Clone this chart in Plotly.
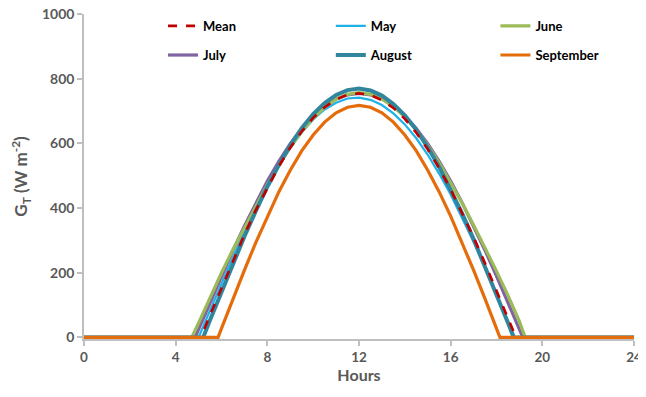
import plotly.graph_objects as go

# ---- data ----
mean_x = [0, 5.1, 5.5, 6, 6.5, 7, 7.5, 8, 8.5, 9, 9.5, 10, 10.5, 11, 11.5, 12, 12.5, 13, 13.5, 14, 14.5, 15, 15.5, 16, 16.5, 17, 17.5, 18, 18.5, 18.85, 24]
mean_y = [0, 0, 69, 154, 237, 318, 394, 464, 529, 587, 637, 679, 712, 736, 751, 755, 750, 734, 710, 676, 633, 582, 523, 458, 386, 310, 229, 146, 60, 0, 0]

may_x = [0, 5.0, 5.5, 6, 6.5, 7, 7.5, 8, 8.5, 9, 9.5, 10, 10.5, 11, 11.5, 12, 12.5, 13, 13.5, 14, 14.5, 15, 15.5, 16, 16.5, 17, 17.5, 18, 18.5, 18.8, 24]
may_y = [0, 0, 84, 167, 248, 326, 400, 468, 531, 586, 634, 674, 705, 726, 739, 742, 735, 719, 693, 659, 616, 565, 506, 442, 371, 296, 216, 134, 51, 0, 0]

june_x = [0, 4.7, 5.0, 5.5, 6, 6.5, 7, 7.5, 8, 8.5, 9, 9.5, 10, 10.5, 11, 11.5, 12, 12.5, 13, 13.5, 14, 14.5, 15, 15.5, 16, 16.5, 17, 17.5, 18, 18.5, 19, 19.25, 24]
june_y = [0, 0, 45, 125, 200, 272, 340, 408, 472, 532, 588, 637, 678, 712, 737, 752, 757, 752, 738, 714, 682, 642, 594, 540, 480, 416, 348, 278, 205, 130, 50, 0, 0]

july_x = [0, 4.85, 5.0, 5.5, 6, 6.5, 7, 7.5, 8, 8.5, 9, 9.5, 10, 10.5, 11, 11.5, 12, 12.5, 13, 13.5, 14, 14.5, 15, 15.5, 16, 16.5, 17, 17.5, 18, 18.5, 19, 19.15, 24]
july_y = [0, 0, 25, 108, 190, 269, 345, 417, 484, 545, 599, 646, 686, 716, 738, 750, 755, 750, 738, 716, 686, 646, 599, 545, 484, 417, 345, 269, 190, 108, 25, 0, 0]

august_x = [0, 5.2, 5.5, 6, 6.5, 7, 7.5, 8, 8.5, 9, 9.5, 10, 10.5, 11, 11.5, 12, 12.5, 13, 13.5, 14, 14.5, 15, 15.5, 16, 16.5, 17, 17.5, 18, 18.5, 18.75, 24]
august_y = [0, 0, 54, 142, 229, 312, 391, 466, 533, 594, 647, 691, 725, 750, 765, 770, 764, 748, 722, 687, 642, 588, 527, 458, 384, 304, 220, 133, 45, 0, 0]

september_x = [0, 5.85, 6, 6.5, 7, 7.5, 8, 8.5, 9, 9.5, 10, 10.5, 11, 11.5, 12, 12.5, 13, 13.5, 14, 14.5, 15, 15.5, 16, 16.5, 17, 17.5, 18, 18.15, 24]
september_y = [0, 0, 28, 119, 208, 294, 375, 450, 517, 577, 626, 666, 695, 712, 718, 712, 695, 666, 626, 577, 517, 450, 375, 294, 208, 119, 28, 0, 0]

x_ticks = [0, 4, 8, 12, 16, 20, 24]
y_ticks = [0, 200, 400, 600, 800, 1000]

FONT = "Lato"
GRAY = "#595959"
AXIS = "#BFBFBF"

fig = go.Figure()

# legend slot positions (container coords): one legend per entry, laid out 3 x 2
col_x = [0.243, 0.506, 0.764]
row_y = [0.954, 0.879]

# draw order (bottom to top)
series = [
    ("May", may_x, may_y, "#1FB1E6", 2.2, "solid", "legend2"),
    ("July", july_x, july_y, "#8064A2", 3.2, "solid", "legend4"),
    ("June", june_x, june_y, "#9BBB59", 3.2, "solid", "legend3"),
    ("August", august_x, august_y, "#31859C", 4.0, "solid", "legend5"),
    ("Mean", mean_x, mean_y, "#C00000", 2.6, "dash", "legend"),
    ("September", september_x, september_y, "#E46C0A", 3.2, "solid", "legend6"),
]
for name, xs, ys, col, w, dash, leg in series:
    fig.add_trace(go.Scatter(
        x=xs, y=ys, mode="lines", name=name,
        line=dict(color=col, width=w, dash=dash),
        legend=leg, showlegend=True,
    ))

legend_common = dict(
    orientation="h",
    font=dict(family=FONT, size=13, color="#000000", weight="bold"),
    bgcolor="rgba(0,0,0,0)", xanchor="left", yanchor="middle",
    xref="container", yref="container",
)
legend_names = ["legend", "legend2", "legend3", "legend4", "legend5", "legend6"]
legends = {}
for i, ln in enumerate(legend_names):
    legends[ln] = dict(x=col_x[i % 3], y=row_y[i // 3], **legend_common)

# the page body has an 8px default margin, so the figure is sized to fit the window
fig.update_layout(
    width=638, height=389,
    showlegend=True,
    margin=dict(l=76, r=12, t=6, b=58, autoexpand=False),
    paper_bgcolor="white", plot_bgcolor="white",
    font=dict(family=FONT, color=GRAY),
    xaxis=dict(
        range=[-0.001, 24.001], tickvals=x_ticks, ticktext=[str(v) for v in x_ticks],
        showgrid=False, zeroline=False, showline=True, linecolor=AXIS, linewidth=1.5,
        ticks="outside", ticklen=5, tickcolor=AXIS, tickwidth=1.5,
        ticklabeloverflow="allow",
        tickfont=dict(family=FONT, size=13.5, color=GRAY, weight="bold"),
        title=dict(text="Hours", font=dict(family=FONT, size=16, color=GRAY, weight="bold"), standoff=6),
        layer="below traces",
    ),
    yaxis=dict(
        range=[-5, 1000.5], tickvals=y_ticks, ticktext=[str(v) for v in y_ticks],
        showgrid=False, zeroline=False, showline=True, linecolor=AXIS, linewidth=1.5,
        ticks="outside", ticklen=5, tickcolor=AXIS, tickwidth=1.5,
        ticklabeloverflow="allow",
        tickfont=dict(family=FONT, size=14, color=GRAY, weight="bold"),
        title=dict(text="G<sub>T</sub> (W m<sup>-2</sup>)", font=dict(family=FONT, size=17, color=GRAY, weight="bold"), standoff=20),
        layer="below traces",
    ),
    **legends,
)

fig.write_html("out.html")
